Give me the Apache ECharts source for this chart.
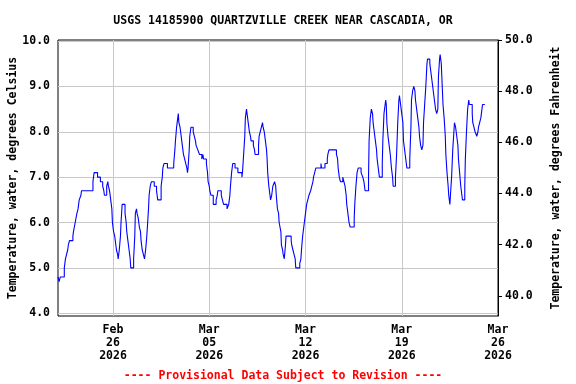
<!DOCTYPE html>
<html>
<head>
<meta charset="utf-8">
<script src="https://cdn.jsdelivr.net/npm/echarts@6/dist/echarts.min.js"></script>
<style>html,body{margin:0;padding:0;background:#fff}#chart{width:576px;height:384px}</style>
</head>
<body>
<div id="chart"></div>
<script>
// Hours since 2026-02-22 00:00 (UTC used for display)
var hoursSinceStart = [
0,2,4,11,13,15,17,18,20,26,27,30,33,35,37,40,41,61,63,69,74,78,80,81,85,87,88,90,92,94,95,97,99,101,102,104,105,107,109,110,112,117,119,120,122,124,126,127,132,134,135,137,138,140,142,144,145,147,149,151,153,155,157,158,159,161,163,168,172,174,180,182,183,185,191,
202,204,205,207,208,210,211,213,214,216,218,219,221,223,225,226,227,229,230,232,236,238,240,241,244,247,251,253,254,259,261,262,264,265,267,271,276,278,279,285,287,289,295,298,300,301,303,305,309,314,321,322,324,326,327,329,330,332,334,336,337,341,343,344,350,351,353,355,357,358,360,362,364,365,366,368,370,371,373,375,378,380,381,383,385,386,
389,390,392,393,395,397,398,407,408,410,412,414,415,422,424,425,427,429,431,432,434,436,438,441,443,445,446,448,450,459,460,466,470,471,473,486,488,489,491,493,497,499,501,503,504,506,508,510,517,518,520,522,524,529,532,534,535,536,542,543,545,547,549,550,552,554,556,557,559,561,566,567,569,571,572,573,
574,576,578,580,582,584,585,589,591,593,595,596,598,600,602,603,605,607,609,614,616,617,619,621,623,624,626,628,630,631,633,635,637,638,640,642,644,645,649,651,652,654,656,658,659,661,663,664,666,667,669,670,672,674,676,677,679,681,682,684,685,687,689,691,692,694,696,698,699,701,703,705,706,710,711,713,715,717,718,723,724,726,728,731,733,734,736,738,740,741,745
];
var tempC = [
4.8,4.7,4.8,5.0,5.2,5.3,5.4,5.5,5.6,5.7,5.8,6.0,6.2,6.3,6.5,6.6,6.7,6.9,7.1,7.0,6.9,6.8,6.7,6.6,6.8,6.9,6.8,6.7,6.5,6.3,6.0,5.8,5.7,5.5,5.4,5.3,5.2,5.4,5.7,6.0,6.4,6.2,6.0,5.8,5.6,5.4,5.2,5.0,5.2,5.7,6.2,6.3,6.2,6.1,5.9,5.8,5.6,5.4,5.3,5.2,5.4,5.7,6.1,6.3,6.6,6.8,6.9,6.8,6.7,6.5,6.8,7.0,7.2,7.3,7.2,
7.3,7.6,7.8,8.1,8.2,8.4,8.2,8.1,8.0,7.8,7.6,7.5,7.4,7.3,7.2,7.1,7.2,7.6,7.9,8.1,8.0,7.9,7.8,7.7,7.6,7.5,7.4,7.5,7.4,7.3,7.1,6.9,6.8,6.7,6.6,6.4,6.5,6.6,6.7,6.6,6.5,6.4,6.3,6.4,6.6,6.8,7.1,7.3,7.2,7.1,7.0,7.1,7.5,7.9,8.3,8.5,8.4,8.2,8.0,7.9,7.8,7.7,7.6,7.5,7.7,7.9,8.0,8.1,8.2,8.1,8.0,7.8,7.6,7.4,7.1,6.8,6.6,6.5,6.6,6.8,6.9,6.8,6.6,6.3,6.2,6.0,
5.8,5.5,5.4,5.3,5.2,5.5,5.7,5.6,5.5,5.4,5.3,5.2,5.0,5.1,5.2,5.4,5.7,5.9,6.1,6.2,6.4,6.5,6.6,6.7,6.8,6.9,7.0,7.1,7.2,7.3,7.2,7.3,7.4,7.5,7.6,7.5,7.4,7.2,7.0,6.9,7.0,6.9,6.8,6.6,6.4,6.2,6.0,5.9,6.1,6.4,6.8,7.1,7.2,7.1,7.0,6.9,6.8,6.7,7.0,7.8,8.3,8.5,8.4,8.2,8.0,7.8,7.6,7.4,7.2,7.0,7.3,7.8,8.4,8.6,8.7,8.6,
8.2,7.9,7.7,7.5,7.2,7.0,6.8,7.0,7.5,8.2,8.7,8.8,8.6,8.4,8.2,7.8,7.6,7.4,7.2,7.4,8.1,8.7,8.9,9.0,8.9,8.7,8.5,8.3,8.1,7.9,7.7,7.6,7.7,8.2,8.6,9.0,9.5,9.6,9.5,9.3,9.2,9.0,8.8,8.6,8.5,8.4,8.5,9.2,9.6,9.7,9.5,9.2,8.6,8.3,7.9,7.5,7.1,6.8,6.6,6.4,6.6,7.0,7.6,8.0,8.2,8.1,7.9,7.7,7.4,7.1,6.8,6.6,6.5,6.8,7.4,8.0,8.5,8.7,8.6,8.4,8.2,8.1,8.0,7.9,8.0,8.1,8.2,8.3,8.5,8.6,8.6
];
var leftTicks = [4, 5, 6, 7, 8, 9, 10];
var rightTicks = [40, 42, 44, 46, 48, 50];
var dateTicks = ['2026-02-26', '2026-03-05', '2026-03-12', '2026-03-19', '2026-03-26'];
var monthNames = ['Jan','Feb','Mar','Apr','May','Jun','Jul','Aug','Sep','Oct','Nov','Dec'];
var titleText = 'USGS 14185900 QUARTZVILLE CREEK NEAR CASCADIA, OR';
var footerText = '---- Provisional Data Subject to Revision ----';
var leftName = 'Temperature, water, degrees Celsius';
var rightName = 'Temperature, water, degrees Fahrenheit';

var startMs = Date.UTC(2026, 1, 22);
var endMs = Date.UTC(2026, 2, 26);
function parseDay(s) { var p = s.split('-'); return Date.UTC(+p[0], +p[1] - 1, +p[2]); }
var dateTickMs = dateTicks.map(parseDay);
var seriesData = hoursSinceStart.map(function (h, i) { return [startMs + h * 3600000, tempC[i]]; });

var FONT = 'DejaVu Sans Mono';
var FS = 11.5;
var chart = echarts.init(document.getElementById('chart'), null, { renderer: 'canvas' });
chart.setOption({
  animation: false,
  backgroundColor: '#ffffff',
  title: [
    { text: titleText, left: 278, top: 10, textAlign: 'center',
      textStyle: { fontFamily: FONT, fontWeight: 'bold', fontSize: FS, color: '#000' } },
    { text: footerText, left: 278, top: 365, textAlign: 'center',
      textStyle: { fontFamily: FONT, fontWeight: 'bold', fontSize: FS, color: '#ff0000' } }
  ],
  grid: { left: 58, right: 78, top: 40, bottom: 68, containLabel: false, outerBoundsMode: 'none',
    show: true, borderColor: '#000', borderWidth: 1, backgroundColor: 'transparent' },
  xAxis: {
    type: 'value', min: startMs, max: endMs,
    axisLine: { show: false },
    axisTick: { show: false, customValues: dateTickMs },
    splitLine: { show: true, lineStyle: { color: '#c8c8c8', width: 1 } },
    axisLabel: {
      customValues: dateTickMs,
      margin: 8,
      fontFamily: FONT, fontWeight: 'bold', fontSize: FS, color: '#000', lineHeight: 13,
      formatter: function (v) {
        var d = new Date(v);
        var dd = d.getUTCDate();
        return monthNames[d.getUTCMonth()] + '\n' + (dd < 10 ? '0' + dd : dd) + '\n' + d.getUTCFullYear();
      }
    }
  },
  yAxis: [
    {
      type: 'value', position: 'left', min: 3.94, max: 10.022,
      name: leftName, nameLocation: 'middle', nameRotate: 90, nameGap: 39, nameMoveOverlap: false,
      nameTextStyle: { fontFamily: FONT, fontWeight: 'bold', fontSize: FS, color: '#000' },
      axisLine: { show: false },
      axisTick: { show: false, customValues: leftTicks },
      splitLine: { show: true, lineStyle: { color: '#c8c8c8', width: 1 } },
      axisLabel: { customValues: leftTicks, margin: 8, fontFamily: FONT, fontWeight: 'bold', fontSize: FS, color: '#000',
        formatter: function (v) { return v.toFixed(1); } }
    },
    {
      type: 'value', position: 'right', min: 39.21, max: 50.0,
      name: rightName, nameLocation: 'middle', nameRotate: 90, nameGap: 52, nameMoveOverlap: false,
      nameTextStyle: { fontFamily: FONT, fontWeight: 'bold', fontSize: FS, color: '#000' },
      axisLine: { show: true, lineStyle: { color: '#000', width: 1 } },
      axisTick: { show: true, inside: false, length: 4, customValues: rightTicks, lineStyle: { color: '#000' } },
      splitLine: { show: false },
      axisLabel: { customValues: rightTicks, margin: 7, fontFamily: FONT, fontWeight: 'bold', fontSize: FS, color: '#000',
        formatter: function (v) { return v.toFixed(1); } }
    }
  ],
  series: [{
    type: 'line', yAxisIndex: 0, step: 'end', showSymbol: false, symbol: 'none',
    lineStyle: { color: '#0000ff', width: 1.1 },
    data: seriesData
  }]
});
</script>
</body>
</html>
